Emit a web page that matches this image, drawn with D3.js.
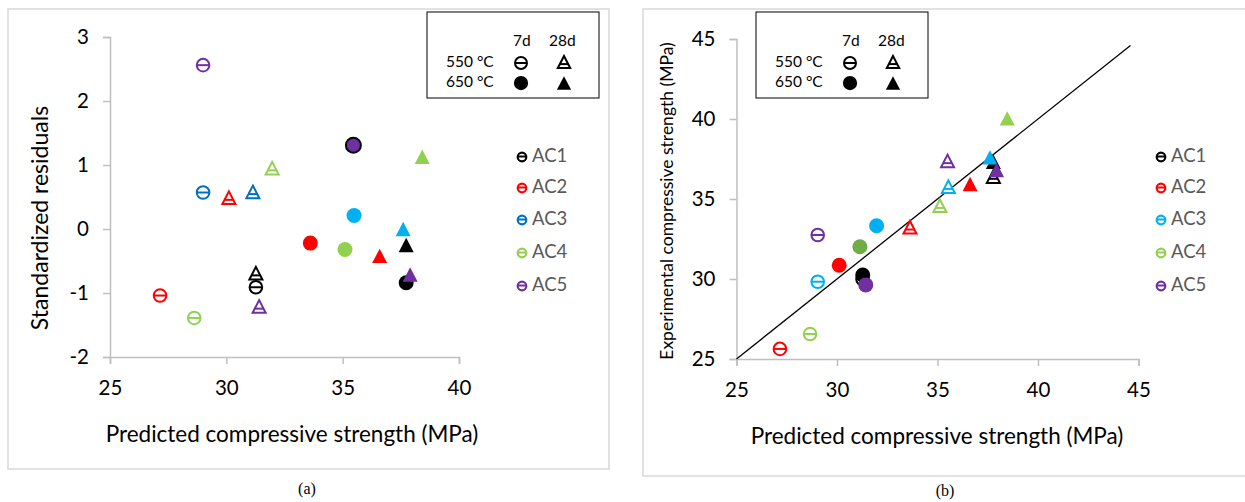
<!DOCTYPE html>
<html><head><meta charset="utf-8">
<script src="https://cdn.jsdelivr.net/npm/d3@7"></script>
<style>body{margin:0;background:#fff}svg{display:block}</style>
</head><body><svg id="c" width="1245" height="502"></svg>
<script>
// ---------- data ----------
const seriesNames = ["AC1","AC2","AC3","AC4","AC5"];
const groups = ["550 °C 7d","550 °C 28d","650 °C 7d","650 °C 28d"];
// Panel (a): predicted strength (x) and standardized residual (y), per group, series AC1..AC5
const aPred550_7d  = [31.27, 27.15, 29.00, 28.62, 29.00];
const aRes550_7d   = [-0.91, -1.04, 0.57, -1.39, 2.56];
const aPred550_28d = [31.27, 30.11, 31.14, 31.97, 31.41];
const aRes550_28d  = [-0.69, 0.49, 0.58, 0.95, -1.21];
const aPred650_7d  = [37.73, 33.61, 35.49, 35.10, 35.46];
const aRes650_7d   = [-0.84, -0.22, 0.21, -0.32, 1.31];
const aPred650_28d = [37.73, 36.59, 37.60, 38.42, 37.90];
const aRes650_28d  = [-0.25, -0.42, 0.00, 1.13, -0.71];
// Panel (b): predicted (x) vs experimental (y)
const bPred550_7d  = [31.27, 27.16, 29.04, 28.66, 29.04];
const bExp550_7d   = [30.00, 25.63, 29.83, 26.56, 32.75];
const bPred550_28d = [37.78, 33.63, 35.54, 35.12, 35.50];
const bExp550_28d  = [36.40, 33.23, 35.77, 34.58, 37.38];
const bPred650_7d  = [31.28, 30.11, 31.97, 31.14, 31.43];
const bExp650_7d   = [30.25, 30.86, 33.33, 32.02, 29.63];
const bPred650_28d = [37.78, 36.62, 37.61, 38.47, 37.94];
const bExp650_28d  = [37.33, 35.94, 37.60, 40.04, 36.81];
const lineX = [25, 44.6];
const lineY = [25, 44.6];
const aXTicks = [25, 30, 35, 40];
const aYTicks = [-2, -1, 0, 1, 2, 3];
const bXTicks = [25, 30, 35, 40, 45];
const bYTicks = [25, 30, 35, 40, 45];

// ---------- styles ----------
const colorsA = ["#000000","#ff0000","#0070c0","#92d050","#7030a0"];
const colorsB = ["#000000","#ff0000","#00b0f0","#92d050","#7030a0"];
const colorsA650 = ["#000000","#ff0000","#00b0f0","#92d050","#7030a0"];
const colorsB650_7d = ["#000000","#ff0000","#00b0f0","#70ad47","#7030a0"];
const FONT = "Lato, 'Open Sans', sans-serif";

const svg = d3.select("#c");

function marker(g, type, x, y, color, opts = {}) {
  const s = opts.scale || 1;
  if (type === "oc") {
    const r = 6.3 * s;
    g.append("circle").attr("cx", x).attr("cy", y).attr("r", r)
      .attr("fill", "#fff").attr("stroke", color).attr("stroke-width", 2);
    g.append("line").attr("x1", x - r).attr("x2", x + r).attr("y1", y).attr("y2", y)
      .attr("stroke", color).attr("stroke-width", 2);
  } else if (type === "fc") {
    g.append("circle").attr("cx", x).attr("cy", y).attr("r", 7.5 * s)
      .attr("fill", color).attr("stroke", opts.edge || "none").attr("stroke-width", opts.edge ? 2 : 0);
  } else if (type === "ot") {
    const w = 6.5 * s, h = 6.3 * s;
    g.append("path").attr("d", `M${x},${y - h}L${x + w},${y + h}L${x - w},${y + h}Z`)
      .attr("fill", "#fff").attr("stroke", color).attr("stroke-width", 2).attr("stroke-linejoin", "miter");
    const by = y + h * 0.35, hw = w * ((by - (y - h)) / (2 * h));
    g.append("line").attr("x1", x - hw).attr("x2", x + hw).attr("y1", by).attr("y2", by)
      .attr("stroke", color).attr("stroke-width", 2);
  } else if (type === "ft") {
    const w = 7.5 * s, h = 7.2 * s;
    g.append("path").attr("d", `M${x},${y - h}L${x + w},${y + h}L${x - w},${y + h}Z`)
      .attr("fill", color);
  }
}

function frame(x0, y0, x1, y1) {
  svg.append("rect").attr("x", x0).attr("y", y0).attr("width", x1 - x0).attr("height", y1 - y0)
    .attr("fill", "none").attr("stroke", "#d9d9d9").attr("stroke-width", 1.5);
}

function axes(x, y, xTicks, yTicks, xAt, yAt) {
  const gx = svg.append("g").attr("transform", `translate(0,${xAt})`)
    .call(d3.axisBottom(x).tickValues(xTicks).tickSize(7).tickPadding(16).tickFormat(d3.format("d")));
  const gy = svg.append("g").attr("transform", `translate(${yAt},0)`)
    .call(d3.axisLeft(y).tickValues(yTicks).tickSize(7).tickPadding(14).tickFormat(d => d3.format("d")(d).replace("−","-")));
  [gx, gy].forEach(g => {
    g.select(".domain").attr("stroke", "#bfbfbf").attr("stroke-width", 1.5);
    g.selectAll(".tick line").attr("stroke", "#bfbfbf").attr("stroke-width", 1.5);
    g.selectAll(".tick text").attr("font-family", FONT).attr("font-size", 20.5).attr("fill", "#000");
  });
}

function boxLegend(x0, y0) {
  const g = svg.append("g");
  g.append("rect").attr("x", x0).attr("y", y0).attr("width", 172).attr("height", 86)
    .attr("fill", "#fff").attr("stroke", "#000").attr("stroke-width", 1);
  const t = (txt, x, y) => g.append("text").attr("x", x).attr("y", y).attr("font-family", FONT)
    .attr("font-size", 15.5).attr("fill", "#000").attr("dominant-baseline", "middle").text(txt);
  t("7d", x0 + 86, y0 + 30);
  t("28d", x0 + 122, y0 + 30);
  t("550 °C", x0 + 19, y0 + 51);
  t("650 °C", x0 + 19, y0 + 71);
  marker(g, "oc", x0 + 94, y0 + 51, "#000", {scale: 0.95});
  marker(g, "ot", x0 + 137, y0 + 50, "#000", {scale: 0.95});
  marker(g, "fc", x0 + 94, y0 + 71, "#000", {scale: 0.95});
  marker(g, "ft", x0 + 137, y0 + 71, "#000", {scale: 0.95});
}

function seriesLegend(x0, colors) {
  const ys = [157, 188, 220, 253, 286];
  const g = svg.append("g");
  seriesNames.forEach((n, i) => {
    g.append("circle").attr("cx", x0).attr("cy", ys[i]).attr("r", 4.3)
      .attr("fill", "#fff").attr("stroke", colors[i]).attr("stroke-width", 2.2);
    g.append("line").attr("x1", x0 - 4.3).attr("x2", x0 + 4.3).attr("y1", ys[i] - 0.5).attr("y2", ys[i] - 0.5)
      .attr("stroke", colors[i]).attr("stroke-width", 2);
    g.append("text").attr("x", x0 + 10).attr("y", ys[i]).attr("dominant-baseline", "middle")
      .attr("font-family", FONT).attr("font-size", 18.5).attr("fill", "#595959").text(n);
  });
}

// ---------- Panel (a) ----------
frame(8, 9, 609, 469);
const xa = d3.scaleLinear().domain([25, 40]).range([110, 459]);
const ya = d3.scaleLinear().domain([-2, 3]).range([357, 37]);
axes(xa, ya, aXTicks, aYTicks, 357, 110);
svg.append("text").attr("transform", `translate(42,218) rotate(-90)`).attr("text-anchor", "middle")
  .attr("dominant-baseline", "middle").attr("font-family", FONT).attr("font-size", 23).attr("fill", "#000")
  .text("Standardized residuals");
svg.append("text").attr("x", 292).attr("y", 436).attr("text-anchor", "middle")
  .attr("dominant-baseline", "middle").attr("font-family", FONT).attr("font-size", 22.5).attr("fill", "#000")
  .text("Predicted compressive strength (MPa)");
svg.append("text").attr("x", 307).attr("y", 490).attr("text-anchor", "middle").attr("dominant-baseline", "middle")
  .attr("font-family", "'Liberation Serif', serif").attr("font-size", 16).attr("fill", "#000").text("(a)");

const pa = svg.append("g");
const aSets = [
  {t: "oc", xs: aPred550_7d, ys: aRes550_7d, c: colorsA},
  {t: "ot", xs: aPred550_28d, ys: aRes550_28d, c: colorsA},
  {t: "fc", xs: aPred650_7d, ys: aRes650_7d, c: colorsA650},
  {t: "ft", xs: aPred650_28d, ys: aRes650_28d, c: colorsA650}
];
aSets.forEach(s => s.xs.forEach((v, i) => {
  const opts = (s.t === "fc" && i === 4) ? {edge: "#000"} : {};
  marker(pa, s.t, xa(v), ya(s.ys[i]), s.c[i], opts);
}));
boxLegend(427, 12);
seriesLegend(522, colorsA);

// ---------- Panel (b) ----------
frame(643, 9, 1250, 476);
const xb = d3.scaleLinear().domain([25, 45]).range([736.5, 1138.5]);
const yb = d3.scaleLinear().domain([25, 45]).range([359, 39]);
axes(xb, yb, bXTicks, bYTicks, 359, 736.5);
svg.append("text").attr("transform", `translate(669,201) rotate(-90)`).attr("text-anchor", "middle")
  .attr("dominant-baseline", "middle").attr("font-family", FONT).attr("font-size", 17.5).attr("fill", "#000")
  .text("Experimental compressive strength (MPa)");
svg.append("text").attr("x", 937).attr("y", 438).attr("text-anchor", "middle")
  .attr("dominant-baseline", "middle").attr("font-family", FONT).attr("font-size", 22.5).attr("fill", "#000")
  .text("Predicted compressive strength (MPa)");
svg.append("text").attr("x", 945).attr("y", 492).attr("text-anchor", "middle").attr("dominant-baseline", "middle")
  .attr("font-family", "'Liberation Serif', serif").attr("font-size", 16).attr("fill", "#000").text("(b)");

svg.append("line").attr("x1", xb(lineX[0])).attr("y1", yb(lineY[0])).attr("x2", xb(lineX[1])).attr("y2", yb(lineY[1]))
  .attr("stroke", "#000").attr("stroke-width", 1.3);

const pb = svg.append("g");
const bSets = [
  {t: "oc", xs: bPred550_7d, ys: bExp550_7d, c: colorsB},
  {t: "ot", xs: bPred550_28d, ys: bExp550_28d, c: colorsB},
  {t: "fc", xs: bPred650_7d, ys: bExp650_7d, c: colorsB650_7d},
  {t: "ft", xs: bPred650_28d, ys: bExp650_28d, c: colorsB}
];
bSets.forEach(s => s.xs.forEach((v, i) => marker(pb, s.t, xb(v), yb(s.ys[i]), s.c[i])));
boxLegend(756, 12);
seriesLegend(1161, colorsB);
</script></body></html>
